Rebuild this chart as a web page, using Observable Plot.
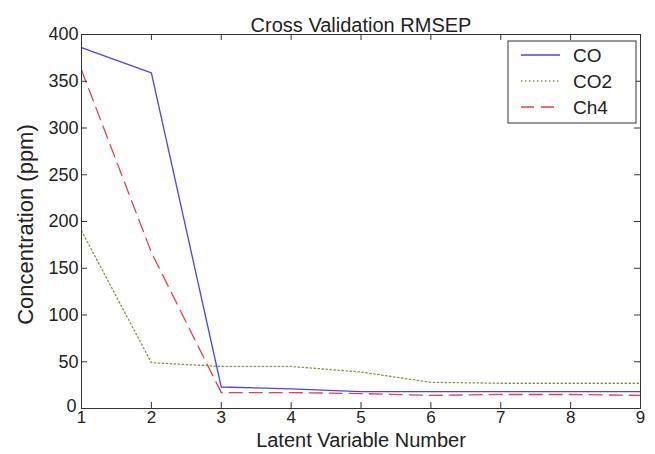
<!DOCTYPE html>
<html>
<head>
<meta charset="utf-8">
<script src="https://cdn.jsdelivr.net/npm/d3@7"></script>
<script src="https://cdn.jsdelivr.net/npm/@observablehq/plot@0.6"></script>
<style>
  html, body { margin: 0; padding: 0; background: #fff; }
  #chart { width: 655px; height: 454px; }
</style>
</head>
<body>
<div id="chart"></div>
<script>
const latentVars = [1, 2, 3, 4, 5, 6, 7, 8, 9];
const coValues  = [386, 359, 23, 21, 18, 18, 18, 18, 18];
const co2Values = [190, 49, 45, 45, 39, 28, 27, 27, 27];
const ch4Values = [362, 167, 17, 17, 16, 14, 15, 15, 14];
const seriesNames = ["CO", "CO2", "Ch4"];
const xTicks = [1, 2, 3, 4, 5, 6, 7, 8, 9];
const yTicks = [0, 50, 100, 150, 200, 250, 300, 350, 400];
const titleText = "Cross Validation RMSEP";
const xLabel = "Latent Variable Number";
const yLabel = "Concentration (ppm)";

const styles = {
  CO:  {stroke: "#4646ee", dash: null},
  CO2: {stroke: "#7c9a4c", dash: "1.5,2.5"},
  Ch4: {stroke: "#e04444", dash: "13,7"}
};

const table = [];
latentVars.forEach((x, i) => {
  table.push({x, y: coValues[i], s: "CO"});
  table.push({x, y: co2Values[i], s: "CO2"});
  table.push({x, y: ch4Values[i], s: "Ch4"});
});

const W = 655, H = 454;
const mL = 81, mR = 15, mT = 34, mB = 46;
const innerW = W - mL - mR, innerH = H - mT - mB;
const tickLen = 6;
const font = "'Liberation Sans', Arial, Helvetica, sans-serif";

const lineMarks = seriesNames.map(name =>
  Plot.line(table.filter(d => d.s === name), {
    x: "x", y: "y",
    stroke: styles[name].stroke,
    strokeWidth: 1.3,
    strokeDasharray: styles[name].dash
  })
);

const chart = Plot.plot({
  width: W, height: H,
  marginLeft: mL, marginRight: mR, marginTop: mT, marginBottom: mB,
  style: {fontFamily: font, fontSize: "18px", color: "#222", background: "#fff"},
  x: {domain: [1, 9]},
  y: {domain: [0, 400]},
  marks: [
    ...lineMarks,
    Plot.frame({stroke: "#333", strokeWidth: 1}),
    // inward ticks on all four sides
    Plot.tickY(yTicks, {y: d => d, insetRight: innerW - tickLen, stroke: "#333"}),
    Plot.tickY(yTicks, {y: d => d, insetLeft: innerW - tickLen, stroke: "#333"}),
    Plot.tickX(xTicks, {x: d => d, insetTop: innerH - tickLen, stroke: "#333"}),
    Plot.tickX(xTicks, {x: d => d, insetBottom: innerH - tickLen, stroke: "#333"}),
    Plot.axisX(xTicks, {tickSize: 0, tickPadding: 2, label: null, fontSize: 17}),
    Plot.axisY(yTicks.filter(d => d !== 0), {tickSize: 0, tickPadding: 3, label: null, fontSize: 18}),
    Plot.axisY(yTicks.filter(d => d === 0), {tickSize: 0, tickPadding: 5, dy: -2, label: null, fontSize: 18}),
    Plot.text([titleText], {frameAnchor: "top", dy: -17, fontSize: 20, fill: "#222"}),
    Plot.text([xLabel], {frameAnchor: "bottom", dy: 38, fontSize: 20, fill: "#222"}),
    Plot.text([yLabel], {frameAnchor: "left", textAnchor: "middle", dx: -56, dy: 3, rotate: -90, fontSize: 22, fill: "#222"})
  ]
});

document.getElementById("chart").appendChild(chart);

// legend box (MATLAB-style, inside the axes)
const svg = d3.select(chart);
const lg = svg.append("g");
const lx = 508, ly = 41, lw = 128, lh = 82;
lg.append("rect").attr("x", lx).attr("y", ly).attr("width", lw).attr("height", lh)
  .attr("fill", "#fff").attr("stroke", "#333");
const rowOffsets = [14, 40, 66];
seriesNames.forEach((name, i) => {
  lg.append("line").attr("x1", lx + 13).attr("x2", lx + 52)
    .attr("y1", ly + rowOffsets[i]).attr("y2", ly + rowOffsets[i])
    .attr("stroke", styles[name].stroke).attr("stroke-width", 1.3)
    .attr("stroke-dasharray", styles[name].dash);
  lg.append("text").attr("x", lx + 65).attr("y", ly + rowOffsets[i])
    .attr("dy", "0.35em").attr("font-size", 19).attr("font-family", font)
    .attr("text-anchor", "start").attr("fill", "#222").text(name);
});
</script>
</body>
</html>
